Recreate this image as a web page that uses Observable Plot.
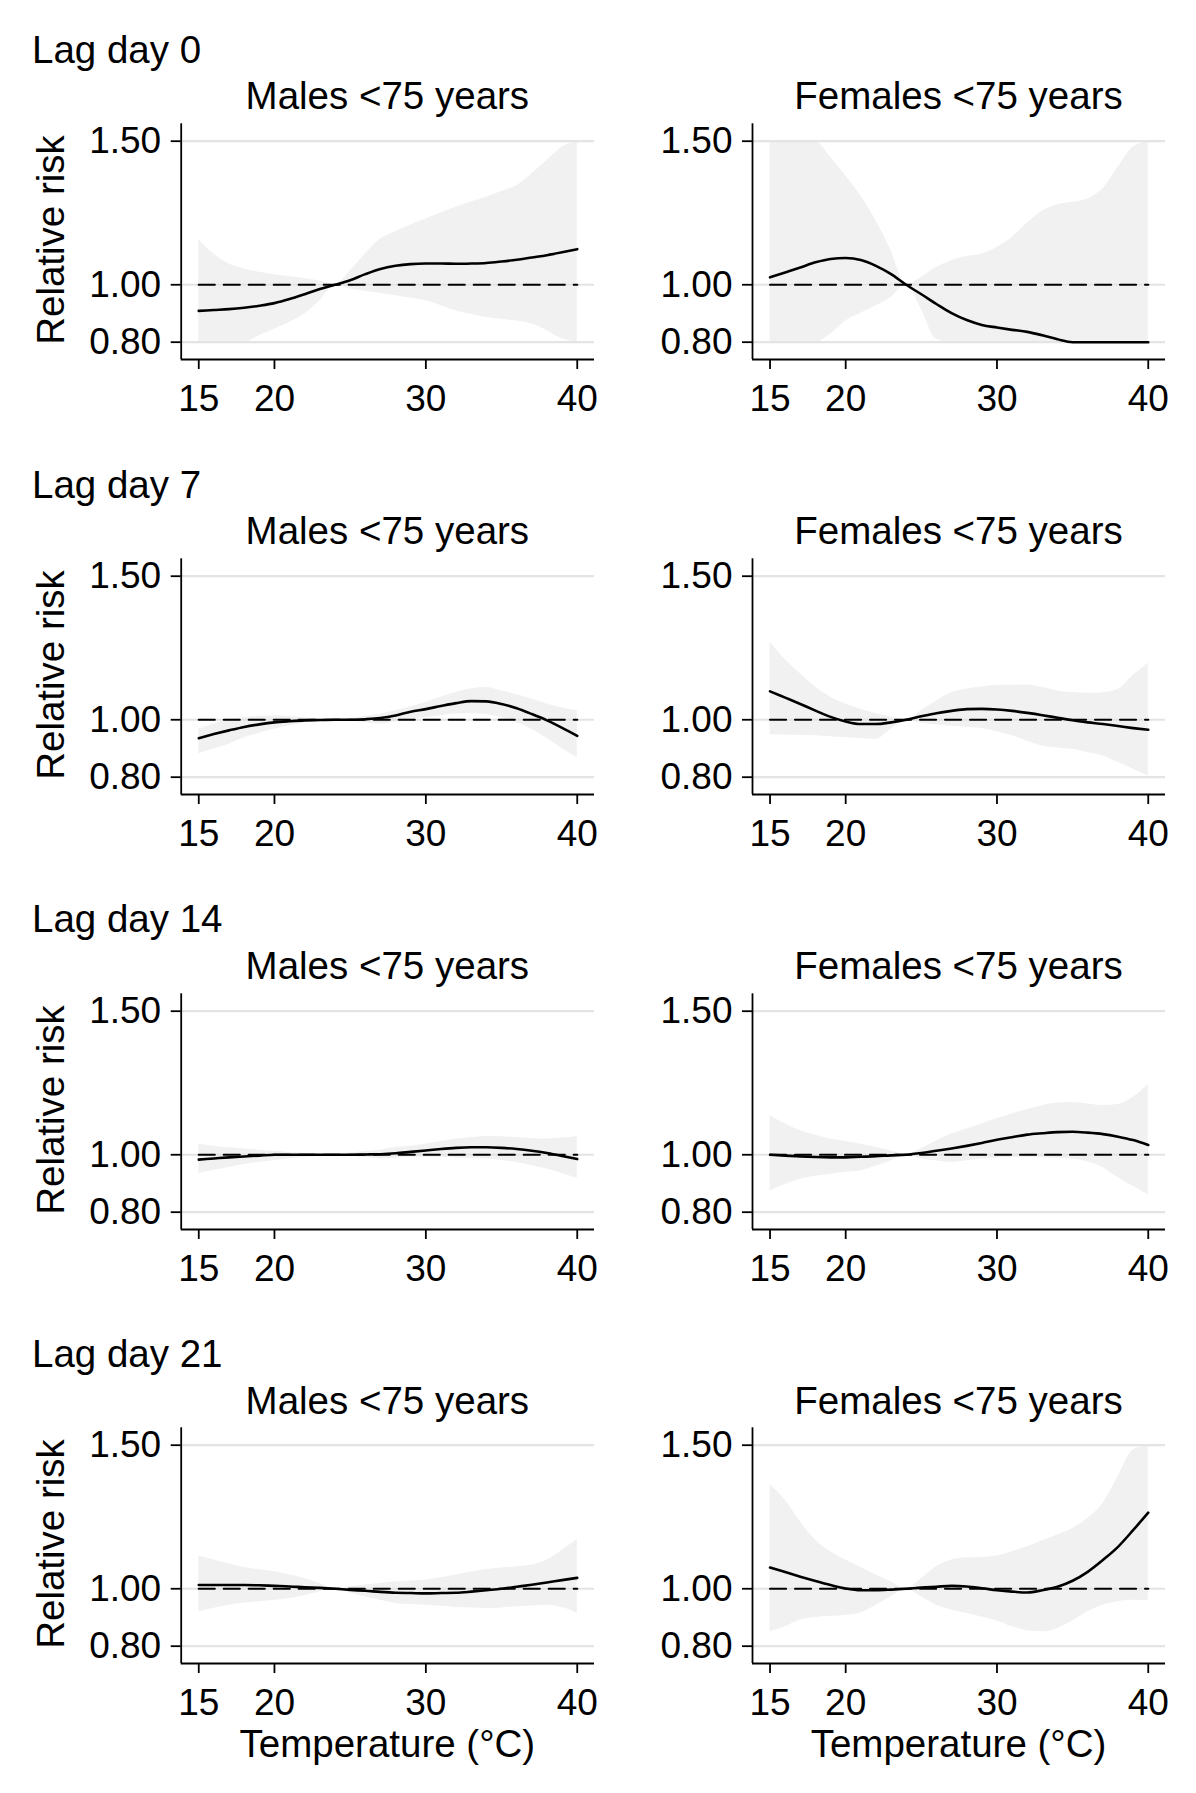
<!DOCTYPE html>
<html><head><meta charset="utf-8">
<script src="https://cdn.jsdelivr.net/npm/d3@7"></script>
<script src="https://cdn.jsdelivr.net/npm/@observablehq/plot@0.6"></script>
<style>
body{margin:0;background:#fff}
#root{position:relative;width:1196px;height:1793px;font-family:"Liberation Sans",Arial,sans-serif;color:#000;overflow:hidden}
.t{position:absolute;white-space:nowrap;line-height:0.75;font-size:38.5px}
.cell{position:absolute}
.cell svg{overflow:visible;display:block}
</style>
</head><body><div id="root"></div>
<script>
// ---------- data ----------
const temperature = [15,16,17,18,19,20,21,22,23,24,25,26,27,28,29,30,31,32,33,34,35,36,37,38,39,40];
const lagLabels = ["Lag day 0","Lag day 7","Lag day 14","Lag day 21"];
const groupLabels = ["Males <75 years","Females <75 years"];
const xTicks = [15,20,30,40];
const yTicks = [0.8,1.0,1.5];
const xDomain = [13.84, 41.14];
const yDomain = [0.7397, 1.5606];
const referenceRisk = 1;
const xLabel = "Temperature (°C)";
const yLabel = "Relative risk";

// Males, lag 0
const m0Est = [.909,.912,.915,.920,.927,.936,.950,.967,.985,1.000,1.016,1.037,1.055,1.066,1.072,1.074,1.074,1.073,1.074,1.076,1.081,1.087,1.095,1.103,1.113,1.124];
const m0Lo  = [.80,.80,.80,.80,.822,.845,.869,.898,.944,1.0,.985,.977,.970,.962,.953,.944,.927,.909,.897,.886,.880,.874,.863,.840,.812,.80];
const m0Hi  = [1.156,1.107,1.072,1.055,1.044,1.035,1.028,1.022,1.013,1.0,1.049,1.107,1.159,1.185,1.208,1.229,1.25,1.27,1.288,1.305,1.325,1.345,1.386,1.433,1.479,1.50];
// Females, lag 0
const f0Est = [1.026,1.043,1.06,1.078,1.09,1.093,1.086,1.066,1.037,1.0,.967,.933,.901,.877,.860,.851,.843,.836,.824,.810,.80,.80,.80,.80,.80,.80];
const f0Lo  = [.80,.80,.80,.80,.828,.874,.901,.927,.956,1.0,.915,.81,.80,.80,.80,.80,.80,.80,.80,.80,.80,.80,.80,.80,.80,.80];
const f0Hi  = [1.5,1.5,1.5,1.5,1.444,1.38,1.31,1.223,1.119,1.0,1.026,1.06,1.084,1.098,1.107,1.13,1.165,1.214,1.256,1.279,1.287,1.299,1.334,1.409,1.479,1.50];
// Males, lag 7
const m7Est = [.936,.950,.963,.975,.984,.991,.995,.998,.999,1.0,1.0,1.002,1.006,1.015,1.028,1.037,1.048,1.058,1.065,1.064,1.055,1.04,1.02,.998,.972,.944];
const m7Lo  = [.882,.898,.915,.937,.953,.967,.979,.99,.996,1.0,.996,.99,.985,.992,1.0,1.008,1.014,1.02,1.021,1.018,1.008,.99,.967,.935,.90,.868];
const m7Hi  = [.967,.985,1.0,1.008,1.012,1.014,1.011,1.006,1.003,1.0,1.004,1.012,1.02,1.031,1.045,1.06,1.078,1.095,1.108,1.112,1.10,1.087,1.072,1.055,1.042,1.031];
// Females, lag 7
const f7Est = [1.099,1.077,1.055,1.032,1.01,.994,.985,.985,.991,1.0,1.012,1.023,1.031,1.037,1.038,1.036,1.031,1.024,1.016,1.007,.998,.991,.985,.978,.971,.965];
const f7Lo  = [.948,.947,.946,.944,.941,.938,.935,.932,.967,1.0,.988,.982,.977,.974,.97,.958,.944,.925,.909,.902,.897,.886,.874,.852,.828,.804];
const f7Hi  = [1.27,1.21,1.16,1.115,1.078,1.055,1.037,1.022,1.01,1.0,1.031,1.065,1.094,1.107,1.114,1.119,1.12,1.121,1.112,1.10,1.095,1.092,1.094,1.105,1.154,1.198];
// Males, lag 14
const m14Est = [.983,.987,.991,.994,.997,1.0,1.0,1.0,1.0,1.0,1.0,1.001,1.002,1.005,1.01,1.015,1.02,1.024,1.026,1.026,1.024,1.02,1.014,1.006,.996,.985];
const m14Lo  = [.935,.946,.956,.966,.973,.979,.985,.991,.996,1.0,.996,.991,.985,.988,.991,.991,.991,.989,.987,.985,.98,.973,.962,.95,.935,.918];
const m14Hi  = [1.037,1.03,1.024,1.02,1.016,1.012,1.008,1.005,1.002,1.0,1.006,1.011,1.016,1.025,1.03,1.037,1.046,1.055,1.06,1.064,1.063,1.06,1.057,1.055,1.058,1.064];
// Females, lag 14
const f14Est = [1.0,.997,.994,.992,.991,.991,.993,.995,.998,1.0,1.006,1.014,1.022,1.031,1.041,1.052,1.061,1.07,1.075,1.079,1.08,1.077,1.072,1.063,1.051,1.034];
const f14Lo  = [.874,.896,.915,.925,.932,.938,.944,.96,.979,1.0,.985,.978,.973,.979,.985,.988,.991,.991,.99,.988,.985,.975,.956,.92,.89,.861];
const f14Hi  = [1.136,1.108,1.084,1.068,1.055,1.046,1.037,1.026,1.014,1.0,1.022,1.048,1.072,1.09,1.107,1.125,1.142,1.158,1.171,1.18,1.182,1.177,1.172,1.175,1.20,1.245];
// Males, lag 21
const m21Est = [1.013,1.013,1.013,1.013,1.012,1.01,1.008,1.005,1.003,1.0,.996,.993,.989,.986,.985,.984,.985,.986,.99,.995,1.0,1.007,1.014,1.022,1.03,1.038];
const m21Lo  = [.92,.932,.943,.95,.955,.96,.966,.976,.99,1.0,.985,.972,.96,.949,.945,.943,.939,.935,.933,.931,.933,.937,.94,.943,.935,.916];
const m21Hi  = [1.114,1.1,1.087,1.074,1.066,1.059,1.048,1.036,1.018,1.0,1.007,1.013,1.018,1.024,1.027,1.03,1.038,1.048,1.058,1.067,1.072,1.077,1.082,1.10,1.134,1.172];
// Females, lag 21
const f21Est = [1.074,1.058,1.042,1.027,1.013,1.001,.995,.995,.997,1.0,1.004,1.007,1.01,1.008,1.002,.995,.99,.987,.995,1.007,1.028,1.059,1.1,1.146,1.204,1.265];
const f21Lo  = [.85,.868,.891,.90,.904,.908,.916,.943,.972,1.0,.972,.943,.926,.914,.902,.888,.868,.854,.85,.862,.888,.92,.943,.955,.96,.958];
const f21Hi  = [1.361,1.309,1.233,1.17,1.129,1.1,1.074,1.048,1.024,1.0,1.036,1.077,1.1,1.108,1.109,1.114,1.129,1.146,1.167,1.187,1.21,1.245,1.297,1.39,1.483,1.5];

const panels = [
  [[m0Est,m0Lo,m0Hi],[f0Est,f0Lo,f0Hi]],
  [[m7Est,m7Lo,m7Hi],[f7Est,f7Lo,f7Hi]],
  [[m14Est,m14Lo,m14Hi],[f14Est,f14Lo,f14Hi]],
  [[m21Est,m21Lo,m21Hi],[f21Est,f21Lo,f21Hi]]
];

// ---------- layout ----------
const root = document.getElementById("root");
const rowStep = 434.8;
const cellW = 598, cellH = 320, cellTop = 100;
const mTop = 23.3, mBottom = 61;
const mLeft = [180.7, 154], mRight = [4, 31];
const font = '"Liberation Sans", Arial, sans-serif';
const LH = 0.75;
const titleSize = 38.5;

function addText(txt, x, baseline, opts = {}) {
  const d = document.createElement("div");
  d.className = "t";
  d.textContent = txt;
  const fs = opts.fs || titleSize;
  d.style.fontSize = fs + "px";
  d.style.top = (baseline - (LH / 2 + 0.3465) * fs) + "px";
  d.style.left = x + "px";
  if (opts.center) d.style.transform = "translateX(-50%)";
  root.appendChild(d);
  return d;
}

panels.forEach((row, r) => {
  const oy = r * rowStep;
  addText(lagLabels[r], 32, 63.5 + oy);
  row.forEach(([est, lo, hi], c) => {
    const data = temperature.map((t, i) => ({t, est: est[i], lo: lo[i], hi: hi[i], ref: referenceRisk}));
    const chart = Plot.plot({
      width: cellW, height: cellH,
      marginTop: mTop, marginBottom: mBottom, marginLeft: mLeft[c], marginRight: mRight[c],
      style: {fontFamily: font, fontSize: "37px", color: "#000", background: "transparent"},
      x: {domain: xDomain, label: null},
      y: {domain: yDomain, label: null},
      marks: [
        Plot.areaY(data, {x: "t", y1: "lo", y2: "hi", fill: "#f1f1f1", curve: "monotone-x"}),
        Plot.gridY(yTicks, {stroke: "#e4e4e4", strokeOpacity: 1, strokeWidth: 2.2}),
        Plot.lineY(data, {x: "t", y: "ref", stroke: "#000", strokeWidth: 2.2, strokeDasharray: "16,9"}),
        Plot.lineY(data, {x: "t", y: "est", stroke: "#000", strokeWidth: 2.6, curve: "monotone-x"}),
        Plot.ruleX([xDomain[0]], {stroke: "#000", strokeWidth: 1.8}),
        Plot.ruleY([yDomain[0]], {stroke: "#000", strokeWidth: 1.8}),
        Plot.axisY(yTicks, {tickFormat: d3.format(".2f"), tickSize: 10, tickPadding: 10, strokeWidth: 1.8, fontSize: 37, label: null}),
        Plot.axisX(xTicks, {tickSize: 10, tickPadding: 15, strokeWidth: 1.8, fontSize: 37, label: null})
      ]
    });
    const cell = document.createElement("div");
    cell.className = "cell";
    cell.style.left = (c * cellW) + "px";
    cell.style.top = (oy + cellTop) + "px";
    cell.appendChild(chart);
    root.appendChild(cell);

    const cx = c * cellW + (mLeft[c] + (cellW - mRight[c])) / 2;
    addText(groupLabels[c], cx, 110 + oy, {center: true});
    if (r === panels.length - 1) addText(xLabel, cx, 1757.5, {center: true});
  });
  // y-axis title, rotated
  const d = document.createElement("div");
  d.className = "t";
  d.textContent = yLabel;
  d.style.left = "51px";
  d.style.top = (240 + oy) + "px";
  d.style.transform = "translate(-50%,-50%) rotate(-90deg)";
  root.appendChild(d);
});
</script>
</body></html>
